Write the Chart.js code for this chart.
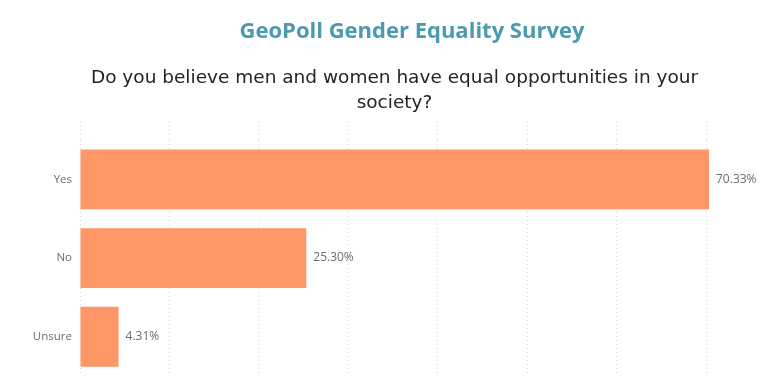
<!DOCTYPE html>
<html>
<head>
<meta charset="utf-8">
<script src="https://cdn.jsdelivr.net/npm/chart.js@4"></script>
<style>
  html, body { margin: 0; padding: 0; background: #fff; overflow: hidden; }
  #wrap { position: relative; width: 768px; height: 378px; overflow: hidden; }
  #heading { position: absolute; top: 14px; left: 0; width: 824px; text-align: center;
    font-family: "Open Sans", sans-serif; font-weight: 700; font-size: 22px; color: #4C9AB0; }
  canvas { position: absolute; left: 0; top: 0; }
</style>
</head>
<body>
<div id="wrap">
  <canvas id="c" width="768" height="391"></canvas>
  <div id="heading"></div>
</div>
<script>
const chartTitle = "GeoPoll Gender Equality Survey";
const questionLines = ["Do you believe men and women have equal opportunities in your", "society?"];
const categories = ["Yes", "No", "Unsure"];
const shares = [70.33, 25.30, 4.31];
const axisMax = 70.33;
const tickStep = 10;

document.getElementById('heading').textContent = chartTitle;

const valueLabels = {
  id: 'valueLabels',
  afterDatasetsDraw(chart) {
    const ctx = chart.ctx;
    const meta = chart.getDatasetMeta(0);
    ctx.save();
    ctx.font = '12px "Open Sans", sans-serif';
    ctx.fillStyle = '#6b6b6b';
    ctx.textAlign = 'left';
    ctx.textBaseline = 'middle';
    meta.data.forEach((bar, i) => {
      ctx.fillText(shares[i].toFixed(2) + '%', bar.x + 7, bar.y);
    });
    ctx.restore();
  }
};

new Chart(document.getElementById('c'), {
  type: 'bar',
  data: {
    labels: categories,
    datasets: [{
      data: shares,
      backgroundColor: '#FE9666',
      borderWidth: 0,
      barPercentage: 0.76,
      categoryPercentage: 1
    }]
  },
  options: {
    indexAxis: 'y',
    responsive: false,
    animation: false,
    events: [],
    layout: { autoPadding: false, padding: { left: 0, right: 59, top: 0, bottom: 2 } },
    plugins: {
      legend: { display: false },
      tooltip: { enabled: false },
      title: {
        display: true,
        fullSize: false,
        text: questionLines,
        color: '#252423',
        font: { family: '"DejaVu Sans"', size: 18.5, lineHeight: 25 / 18.5, weight: 'normal' },
        padding: { top: 65.5, bottom: 6.5 }
      }
    },
    scales: {
      x: {
        position: 'top',
        min: 0,
        max: axisMax,
        ticks: { display: false, stepSize: tickStep, includeBounds: false },
        grid: {
          color: '#d9d9d9',
          lineWidth: 1,
          drawTicks: true,
          tickLength: 18,
          tickColor: '#d9d9d9',
          tickBorderDash: [1, 3]
        },
        border: { display: false, dash: [1, 3] }
      },
      y: {
        afterFit(scale) { scale.width = 80; },
        ticks: {
          padding: 8,
          color: '#6b6b6b',
          font: { family: '"Open Sans"', size: 11.5 }
        },
        grid: { display: false, drawTicks: false },
        border: { display: false }
      }
    }
  },
  plugins: [valueLabels]
});
</script>
</body>
</html>
